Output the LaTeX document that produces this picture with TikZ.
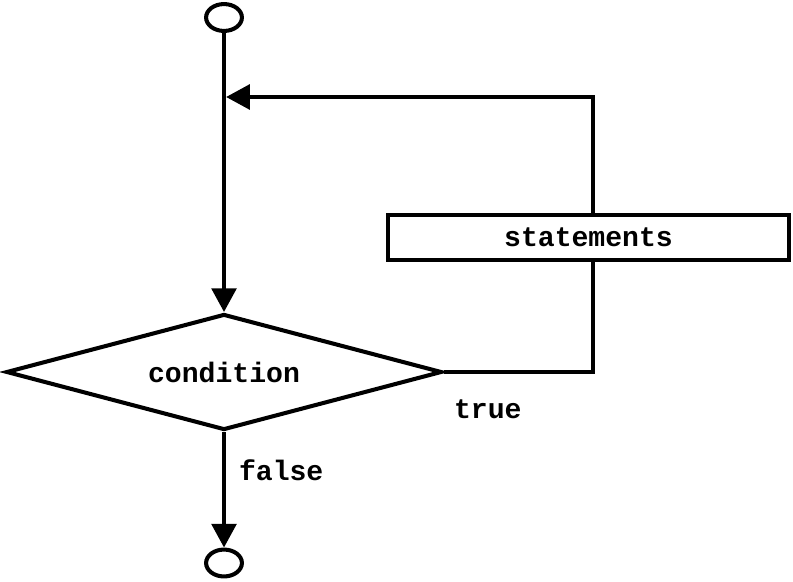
\documentclass[tikz,border=0pt]{standalone}
\usepackage{fontspec}
\setmonofont{Liberation Mono}
\usetikzlibrary{shapes.geometric,arrows.meta}
\begin{document}
\begin{tikzpicture}[x=0.02cm, y=-0.02cm, line width=2.3pt,
        terminal/.style={draw, ellipse, inner sep=0pt, minimum width=20.4pt, minimum height=15.3pt},
        decision/.style={draw, diamond, aspect=3.76, inner sep=0pt, minimum width=248pt, minimum height=66pt},
        process/.style={draw, rectangle, inner sep=0pt, minimum width=228.5pt, minimum height=25.5pt},
        flow/.style={-{Triangle[length=13.5pt, width=14pt]}},
        word/.style={font=\ttfamily\bfseries\fontsize{16}{19}\selectfont}]
        \useasboundingbox (0,0) rectangle (793,581);
        \node[terminal] (start) at (224,17.5) {};
        \node[decision, word] (cond) at (224,372) {condition};
        \node[process, word] (stmt) at (588.5,237.5) {statements};
        \node[terminal] (stop) at (224,563) {};
        \coordinate (loopup) at (593,97);
        \coordinate (looplow) at (593,372);
        \draw[flow] (start) -- (cond);
        \draw[flow] (cond) -- (stop);
        \draw (cond.east) -- (looplow) -- (stmt.south -| looplow);
        \draw[flow, shorten >=1.2pt] (stmt.north -| loopup) -- (loopup) -- (start |- loopup);
        \node[word, anchor=base west, inner sep=0pt] (truelbl) at (452,418) {true};
        \node[word, anchor=base west, inner sep=0pt] (falselbl) at (237,480) {false};
    \end{tikzpicture}
\end{document}
